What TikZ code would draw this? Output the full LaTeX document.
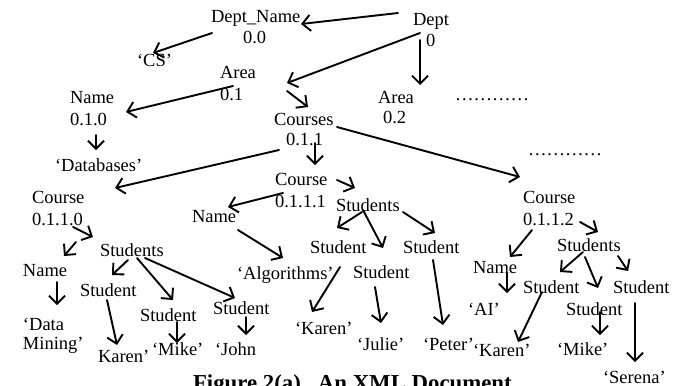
\documentclass[tikz,border=0pt]{standalone}
\usepackage{fontspec}
\setmainfont{Liberation Serif}
\usetikzlibrary{arrows.meta}
\tikzset{
  lbl/.style={anchor=base west, inner sep=0pt, outer sep=0pt, font=\fontsize{18.5}{21}\selectfont},
  captext/.style={anchor=base west, inner sep=0pt, outer sep=0pt, font=\bfseries\fontsize{22.8}{26}\selectfont},
  arr/.style={-{Straight Barb[length=8pt,width=16pt]}, line width=1.9pt, line cap=round},
}
\newcommand{\at}[3]{([shift={(#1,#2)}]#3.base west)}
\begin{document}
\begin{tikzpicture}[x=1pt,y=-1pt]
\clip (0,0) rectangle (697,386);
\fill[white] (0,0) rectangle (697,386);
% nodes
\node[lbl] (deptname) at (211,22) {Dept\_Name};
\node[lbl] (deptnameid) at (243,43) {0.0};
\node[lbl] (cs) at (137,66) {‘CS’};
\node[lbl] (dept) at (413,25.5) {Dept};
\node[lbl] (deptid) at (426,46.5) {0};
\node[lbl] (area1) at (220,78) {Area};
\node[lbl] (area1id) at (220,100) {0.1};
\node[lbl] (name1) at (70,103) {Name};
\node[lbl] (name1id) at (70,125) {0.1.0};
\node[lbl] (courses) at (274,125) {Courses};
\node[lbl] (coursesid) at (286,145) {0.1.1};
\node[lbl] (databases) at (55,171) {‘Databases’};
\node[lbl] (area2) at (378,103) {Area};
\node[lbl] (area2id) at (383,123) {0.2};
\node[lbl] (dotsa) at (455,100) {…………};
\node[lbl] (dotsb) at (528,155) {…………};
% course 0
\node[lbl] (course0) at (32,203) {Course};
\node[lbl] (course0id) at (32,225) {0.1.1.0};
\node[lbl] (students0) at (100,256) {Students};
\node[lbl] (name0) at (23,276) {Name};
\node[lbl] (data) at (23,330) {‘Data};
\node[lbl] (mining) at (23,349) {Mining’};
\node[lbl] (sa0) at (80,296) {Student};
\node[lbl] (sb0) at (140,321) {Student};
\node[lbl] (sc0) at (213,314) {Student};
\node[lbl] (karen0) at (98,362) {Karen’};
\node[lbl] (mike0) at (152,355) {‘Mike’};
\node[lbl] (john) at (215,355) {‘John};
% course 1
\node[lbl] (course1) at (275,185) {Course};
\node[lbl] (course1id) at (275,207) {0.1.1.1};
\node[lbl] (nameb) at (192,222) {Name};
\node[lbl] (alg) at (237,279) {‘Algorithms’};
\node[lbl] (students1) at (336,211) {Students};
\node[lbl] (sa1) at (310,253) {Student};
\node[lbl] (sb1) at (353,278) {Student};
\node[lbl] (sc1) at (403,253) {Student};
\node[lbl] (karen1) at (295,334) {‘Karen’};
\node[lbl] (julie) at (357,350) {‘Julie’};
\node[lbl] (peter) at (423,350) {‘Peter’};
% course 2
\node[lbl] (course2) at (523,203) {Course};
\node[lbl] (course2id) at (523,225) {0.1.1.2};
\node[lbl] (students2) at (557,251) {Students};
\node[lbl] (name2) at (473,273) {Name};
\node[lbl] (ai) at (468,315) {‘AI’};
\node[lbl] (sa2) at (523,293) {Student};
\node[lbl] (sb2) at (566,315) {Student};
\node[lbl] (sc2) at (613,293) {Student};
\node[lbl] (karen2) at (473,356) {‘Karen’};
\node[lbl] (mike2) at (557,355) {‘Mike’};
\node[lbl] (serena) at (603,383) {‘Serena’};
% caption
\node[captext] (caption) at (193,390) {Figure 2(a).\ \ An XML Document};
% connectors
\draw[arr] \at{-15}{-12.5}{dept} -- \at{90}{2}{deptname};
\draw[arr] \at{1}{11}{deptname} -- \at{16}{-13}{cs};
\draw[arr] \at{7}{7.5}{dept} -- \at{67}{5}{area1};
\draw[arr] \at{13}{8}{area1} -- \at{56}{9}{name1};
\draw[arr] \at{67}{13}{area1} -- \at{34}{-18}{courses};
\draw[arr] \at{7}{14.5}{dept} -- \at{42}{-18}{area2};
\draw[arr] \at{26}{10}{name1id} -- \at{41}{-21}{databases};
\draw[arr] \at{-7}{5}{coursesid} -- \at{83}{-15}{course0};
\draw[arr] \at{29}{-2}{coursesid} -- \at{40}{-20}{course1};
\draw[arr] \at{63}{2}{courses} -- \at{-3}{-26}{course2};
% course 0 subtree
\draw[arr] \at{41}{2}{course0id} -- \at{-7}{-19}{students0};
\draw[arr] \at{44}{17}{course0id} -- \at{41}{-20}{name0};
\draw[arr] \at{34}{6}{name0} -- \at{34}{-25}{data};
\draw[arr] \at{28}{4}{students0} -- \at{32}{-21}{sa0};
\draw[arr] \at{37}{2}{students0} -- \at{33}{-21}{sb0};
\draw[arr] \at{45}{2}{students0} -- \at{22}{-16}{sc0};
\draw[arr] \at{27}{4}{sa0} -- \at{19}{-17}{karen0};
\draw[arr] \at{37}{1}{sb0} -- \at{25}{-12}{mike0};
\draw[arr] \at{33}{3}{sc0} -- \at{31}{-20}{john};
% course 1 subtree
\draw[arr] \at{8}{8}{course1} -- \at{36}{-15}{nameb};
\draw[arr] \at{46}{8}{nameb} -- \at{46}{-21}{alg};
\draw[arr] \at{62}{-5}{course1} -- \at{19}{-23}{students1};
\draw[arr] \at{26}{1}{students1} -- \at{27}{-25}{sa1};
\draw[arr] \at{27}{-1}{students1} -- \at{30}{-30}{sb1};
\draw[arr] \at{67}{1}{students1} -- \at{32}{-20}{sc1};
\draw[arr] \at{30}{14}{sa1} -- \at{17}{-22}{karen1};
\draw[arr] \at{22}{9}{sb1} -- \at{24}{-27}{julie};
\draw[arr] \at{30}{7}{sc1} -- \at{20}{-25}{peter};
% course 2 subtree
\draw[arr] \at{57}{-3}{course2id} -- \at{41}{-19}{students2};
\draw[arr] \at{9}{5}{course2id} -- \at{37}{-16}{name2};
\draw[arr] \at{34}{0}{name2} -- \at{39}{-22}{ai};
\draw[arr] \at{26}{1}{students2} -- \at{37}{-21}{sa2};
\draw[arr] \at{28}{6}{students2} -- \at{32}{-27}{sb2};
\draw[arr] \at{61}{5}{students2} -- \at{15}{-22}{sc2};
\draw[arr] \at{19}{-1}{sa2} -- \at{45}{-14}{karen2};
\draw[arr] \at{34}{-3}{sb2} -- \at{43}{-20}{mike2};
\draw[arr] \at{22}{10}{sc2} -- \at{32}{-21}{serena};
\end{tikzpicture}
\end{document}
